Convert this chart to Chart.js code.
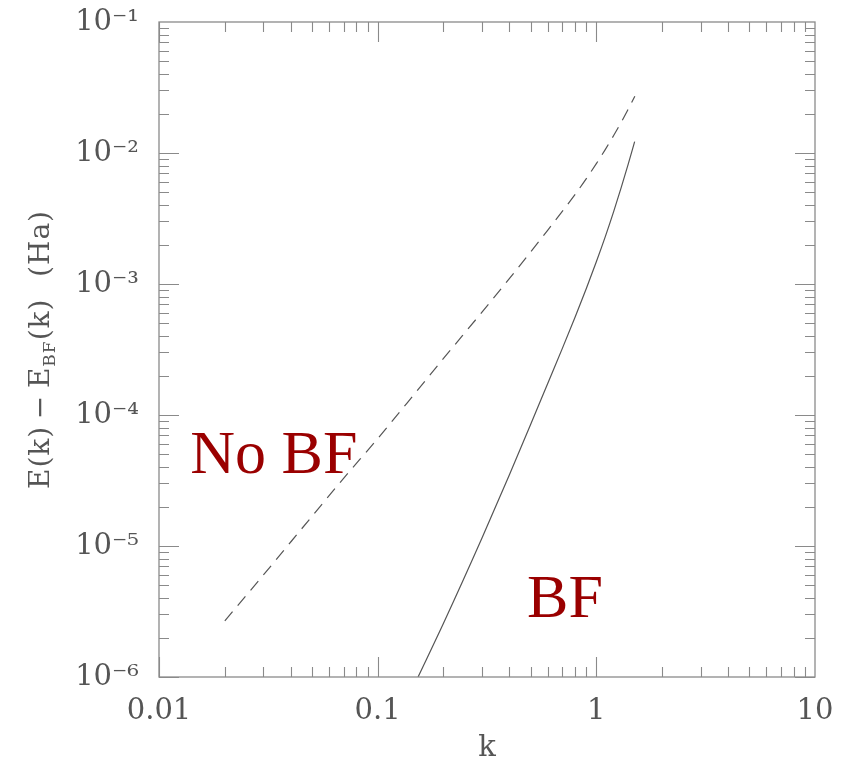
<!DOCTYPE html>
<html>
<head>
<meta charset="utf-8">
<script src="https://cdn.jsdelivr.net/npm/chart.js@4.4.1/dist/chart.umd.min.js"></script>
<style>
  html, body { margin: 0; padding: 0; background: #fff; }
  #wrap { width: 843px; height: 765px; }
</style>
</head>
<body>
<div id="wrap"><canvas id="myChart" width="843" height="765"></canvas></div>
<script>
// values
var kNoBF = [0.02, 0.03, 0.05, 0.07, 0.1, 0.15, 0.2, 0.3, 0.4, 0.5, 0.6, 0.7, 0.8, 0.9, 1.0, 1.1, 1.2, 1.3, 1.4, 1.5];
var eNoBF = [2.68e-6, 6.0e-6, 1.68e-5, 3.3e-5, 6.6e-5, 1.5e-4, 2.7e-4, 6.1e-4, 1.1e-3, 1.75e-3, 2.58e-3, 3.6e-3, 4.83e-3, 6.37e-3, 8.29e-3, 1.067e-2, 1.36e-2, 1.72e-2, 2.17e-2, 2.71e-2];

var kBF = [0.153, 0.2, 0.3, 0.4, 0.5, 0.6, 0.7, 0.8, 0.9, 1.0, 1.1, 1.2, 1.3, 1.4, 1.497];
var eBF = [1.0e-6, 2.57e-6, 1.15e-5, 3.49e-5, 8.43e-5, 1.75e-4, 3.24e-4, 5.6e-4, 9.24e-4, 1.477e-3, 2.31e-3, 3.57e-3, 5.46e-3, 8.27e-3, 1.22e-2];

var xTicks = [0.01, 0.1, 1, 10];
var xTickLabels = ["0.01", "0.1", "1", "10"];
var yTicks = [1e-6, 1e-5, 1e-4, 1e-3, 1e-2, 1e-1];

var axisGray = "#8a8a8a";
var textGray = "#555";
var red = "#9a0000";

function pts(xs, ys) {
  var out = [];
  for (var i = 0; i < xs.length; i++) out.push({x: xs[i], y: ys[i]});
  return out;
}

var supMap = {"-": "\u207B", "0": "\u2070", "1": "\u00B9", "2": "\u00B2", "3": "\u00B3", "4": "\u2074", "5": "\u2075", "6": "\u2076", "7": "\u2077", "8": "\u2078", "9": "\u2079"};
function sup(s) {
  return String(s).split("").map(function (c) { return supMap[c]; }).join("");
}

// frame, inner ticks, axis titles and the two labels
var framePlugin = {
  id: "frame",
  afterDatasetsDraw: function (chart) {
    var ctx = chart.ctx, a = chart.chartArea;
    var xs = chart.scales.x, ys = chart.scales.y;
    ctx.save();
    ctx.strokeStyle = axisGray;
    ctx.lineWidth = 1.3;
    ctx.strokeRect(a.left, a.top, a.right - a.left, a.bottom - a.top);
    ctx.lineWidth = 1.1;
    ctx.beginPath();
    var d, m, v, p, len;
    for (d = -2; d <= 0; d++) {
      for (m = 1; m <= 9; m++) {
        v = m * Math.pow(10, d);
        p = Math.round(xs.getPixelForValue(v)) + 0.5;
        len = m === 1 ? 20 : 10;
        ctx.moveTo(p, a.bottom); ctx.lineTo(p, a.bottom - len);
        ctx.moveTo(p, a.top); ctx.lineTo(p, a.top + len);
      }
    }
    for (d = -6; d <= -2; d++) {
      for (m = 1; m <= 9; m++) {
        v = m * Math.pow(10, d);
        p = Math.round(ys.getPixelForValue(v)) + 0.5;
        len = m === 1 ? 20 : 10;
        ctx.moveTo(a.left, p); ctx.lineTo(a.left + len, p);
        ctx.moveTo(a.right, p); ctx.lineTo(a.right - len, p);
      }
    }
    ctx.stroke();

    // x title
    ctx.fillStyle = textGray;
    ctx.font = "29px 'DejaVu Serif'";
    ctx.textAlign = "center";
    ctx.textBaseline = "alphabetic";
    ctx.fillText("k", (a.left + a.right) / 2, 756);

    // y title with subscript
    var big = "28px 'DejaVu Serif'", small = "17px 'DejaVu Serif'";
    var parts = [
      {t: "E(k)\u2009\u2212\u2009E", f: big, dy: 0},
      {t: "BF", f: small, dy: 6},
      {t: "(k)\u2002\u2009(Ha)", f: big, dy: 0}
    ];
    ctx.letterSpacing = "1px";
    var total = 0;
    parts.forEach(function (q) { ctx.font = q.f; q.w = ctx.measureText(q.t).width; total += q.w; });
    ctx.translate(49, (a.top + a.bottom) / 2);
    ctx.rotate(-Math.PI / 2);
    ctx.textAlign = "left";
    var xx = -total / 2;
    parts.forEach(function (q) { ctx.font = q.f; ctx.fillText(q.t, xx, q.dy); xx += q.w; });
    ctx.restore();

    // curve labels placed at data coordinates
    ctx.save();
    ctx.fillStyle = red;
    ctx.font = "62px 'Liberation Serif'";
    ctx.textAlign = "left";
    ctx.textBaseline = "alphabetic";
    ctx.fillText("No BF", xs.getPixelForValue(0.0139), ys.getPixelForValue(3.63e-5));
    ctx.fillText("BF", xs.getPixelForValue(0.482), ys.getPixelForValue(2.88e-6));
    ctx.restore();
  }
};

new Chart("myChart", {
  type: "line",
  data: {
    datasets: [{
      label: "No BF",
      data: pts(kNoBF, eNoBF),
      borderColor: "#555",
      borderWidth: 1.2,
      borderDash: [12, 8],
      pointRadius: 0,
      cubicInterpolationMode: "monotone",
      fill: false
    }, {
      label: "BF",
      data: pts(kBF, eBF),
      borderColor: "#555",
      borderWidth: 1.2,
      pointRadius: 0,
      cubicInterpolationMode: "monotone",
      fill: false
    }]
  },
  options: {
    responsive: false,
    animation: false,
    layout: { padding: { top: 22, right: 28, left: 0, bottom: 0 } },
    plugins: {
      legend: { display: false },
      tooltip: { enabled: false }
    },
    scales: {
      x: {
        type: "logarithmic",
        min: 0.01,
        max: 10,
        grid: { display: false, drawTicks: false },
        border: { display: false },
        afterBuildTicks: function (scale) {
          scale.ticks = xTicks.map(function (v) { return {value: v}; });
        },
        afterFit: function (scale) {
          scale.height = 88;
          scale.paddingLeft = 0;
          scale.paddingRight = 0;
        },
        ticks: {
          autoSkip: false,
          maxRotation: 0,
          padding: 17,
          color: textGray,
          font: { family: "'DejaVu Serif'", size: 29 },
          callback: function (v) { return xTickLabels[xTicks.indexOf(v)]; }
        }
      },
      y: {
        type: "logarithmic",
        min: 1e-6,
        max: 0.1,
        grid: { display: false, drawTicks: false },
        border: { display: false },
        afterBuildTicks: function (scale) {
          scale.ticks = yTicks.map(function (v) { return {value: v}; });
        },
        afterFit: function (scale) {
          scale.width = 159;
          scale.paddingTop = 0;
          scale.paddingBottom = 0;
        },
        ticks: {
          autoSkip: false,
          padding: 20,
          color: textGray,
          font: { family: "'DejaVu Serif'", size: 29 },
          callback: function (v) { return "10" + sup(Math.round(Math.log10(v))); }
        }
      }
    }
  },
  plugins: [framePlugin]
});
</script>
</body>
</html>
